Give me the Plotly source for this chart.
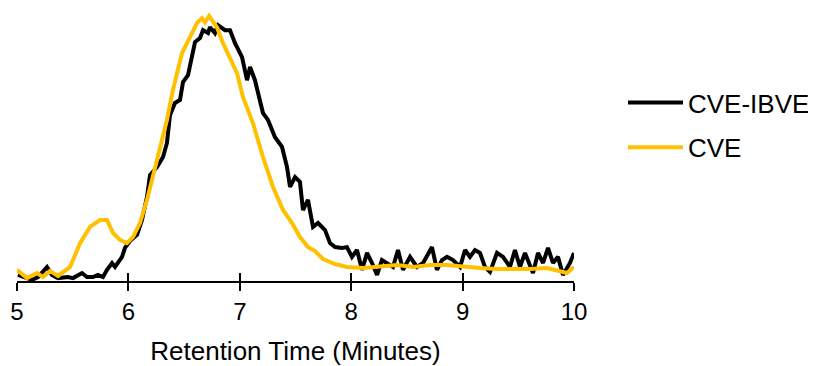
import plotly.graph_objects as go

# CVE-IBVE (black) trace: retention time (min) and normalised detector response
t_ibve = [5.009, 5.072, 5.135, 5.189, 5.269, 5.314, 5.368, 5.458, 5.503, 5.583, 5.628, 5.682,
          5.727, 5.772, 5.808, 5.853, 5.880, 5.943, 5.969, 6.014, 6.077, 6.122, 6.167, 6.194,
          6.257, 6.311, 6.346, 6.373, 6.418, 6.463, 6.490, 6.535, 6.571, 6.598, 6.643, 6.670,
          6.715, 6.732, 6.777, 6.804, 6.867, 6.912, 6.957, 7.020, 7.065, 7.092, 7.136, 7.181,
          7.208, 7.253, 7.316, 7.379, 7.424, 7.451, 7.496, 7.540, 7.567, 7.612, 7.657, 7.702,
          7.765, 7.810, 7.855, 7.917, 7.962, 8.007, 8.052, 8.097, 8.142, 8.187, 8.232, 8.276,
          8.321, 8.375, 8.420, 8.465, 8.528, 8.591, 8.645, 8.725, 8.770, 8.815, 8.860, 8.914,
          8.977, 9.022, 9.066, 9.111, 9.156, 9.201, 9.246, 9.309, 9.363, 9.425, 9.470, 9.515,
          9.560, 9.605, 9.632, 9.677, 9.722, 9.767, 9.811, 9.856, 9.901, 9.964, 10.000]
v_ibve = [2.3, 1.5, 0.4, 1.5, 5.3, 2.3, 1.1, 1.5, 1.1, 3.0, 1.5, 1.5,
          2.3, 1.5, 4.2, 6.8, 5.3, 9.1, 12.5, 15.1, 17.4, 23.0, 31.7, 40.0,
          43.0, 46.8, 52.1, 62.6, 67.2, 68.3, 75.1, 77.7, 85.3, 90.2, 91.7, 94.7,
          93.6, 95.8, 93.6, 96.6, 94.7, 94.7, 89.8, 84.5, 75.8, 80.8, 75.8, 68.3,
          63.4, 60.8, 54.3, 50.6, 43.0, 35.5, 39.2, 37.4, 26.8, 30.6, 20.4, 21.9,
          19.2, 14.3, 12.8, 12.5, 12.8, 9.1, 11.7, 4.2, 10.6, 6.8, 2.3, 7.9,
          6.8, 5.3, 11.7, 4.2, 9.1, 5.3, 6.8, 12.8, 4.2, 7.9, 9.1, 7.9,
          5.3, 11.7, 9.1, 11.7, 10.6, 5.3, 3.4, 10.6, 9.1, 5.3, 11.7, 5.3,
          10.6, 5.3, 3.0, 10.6, 6.8, 12.5, 6.8, 9.1, 2.3, 6.8, 10.6]

# CVE (gold) trace
t_cve = [5.000, 5.090, 5.180, 5.233, 5.296, 5.368, 5.476, 5.566, 5.655, 5.745, 5.808, 5.862,
         5.925, 5.987, 6.041, 6.104, 6.167, 6.257, 6.346, 6.400, 6.481, 6.553, 6.616, 6.661,
         6.688, 6.724, 6.795, 6.849, 6.912, 6.975, 7.029, 7.118, 7.208, 7.298, 7.388, 7.469,
         7.540, 7.612, 7.675, 7.747, 7.855, 7.962, 8.106, 8.259, 8.411, 8.555, 8.707, 8.860,
         9.004, 9.156, 9.309, 9.452, 9.605, 9.758, 9.847, 9.937, 10.000]
v_cve = [4.2, 1.1, 3.0, 1.5, 3.8, 1.9, 5.3, 14.3, 20.4, 23.0, 23.0, 18.1,
         15.5, 14.3, 16.6, 21.9, 30.6, 45.7, 60.8, 72.1, 86.0, 92.1, 97.4, 99.2,
         97.7, 100.0, 95.8, 89.8, 84.5, 78.5, 69.4, 59.6, 46.8, 35.5, 26.8, 21.9,
         16.6, 12.8, 11.3, 8.3, 6.4, 5.3, 4.9, 5.3, 6.0, 5.3, 6.0, 6.0,
         5.3, 4.9, 4.5, 4.5, 4.5, 4.9, 3.8, 3.0, 5.3]

x_ticks = [5, 6, 7, 8, 9, 10]
x_title = "Retention Time (Minutes)"
names = ["CVE-IBVE", "CVE"]
FONT = "Liberation Sans, Arial, sans-serif"

W, H = 808, 358  # page body has an 8px margin

fig = go.Figure()
fig.add_trace(go.Scatter(x=t_ibve, y=v_ibve, mode="lines", name=names[0],
                         line=dict(color="#000000", width=4), legendgroup="a"))
fig.add_trace(go.Scatter(x=t_cve, y=v_cve, mode="lines", name=names[1],
                         line=dict(color="#FFC000", width=4), legendgroup="b"))
# invisible helper trace for the second (inside-tick) axis
fig.add_trace(go.Scatter(x=[5, 10], y=[0, 0], xaxis="x2", mode="lines",
                         line=dict(width=0), showlegend=False, hoverinfo="skip"))

fig.update_layout(
    width=W, height=H,
    margin=dict(l=9, r=242, t=2, b=85, autoexpand=False),
    paper_bgcolor="white", plot_bgcolor="white",
    font=dict(family=FONT, size=22, color="black"),
    showlegend=True,
    legend=dict(x=615 / W, xref="container", xanchor="left",
                y=1 - 71 / H, yref="container", yanchor="top",
                font=dict(size=26), tracegroupgap=8, itemwidth=55,
                bgcolor="rgba(0,0,0,0)"),
    xaxis=dict(range=[5, 10], tickvals=x_ticks, ticks="outside", ticklen=8, tickwidth=2,
               tickcolor="black", showline=True, linewidth=2, linecolor="black",
               showgrid=False, zeroline=False, automargin=False,
               title=dict(text=x_title, standoff=18, font=dict(size=26)),
               tickfont=dict(size=24)),
    xaxis2=dict(range=[5, 10], tickvals=x_ticks, ticks="inside", ticklen=8, tickwidth=2,
                tickcolor="black", overlaying="x", side="bottom", showticklabels=False,
                showgrid=False, zeroline=False, showline=False, automargin=False),
    yaxis=dict(range=[0, 102.3], visible=False),
)

fig.write_html("out.html")
